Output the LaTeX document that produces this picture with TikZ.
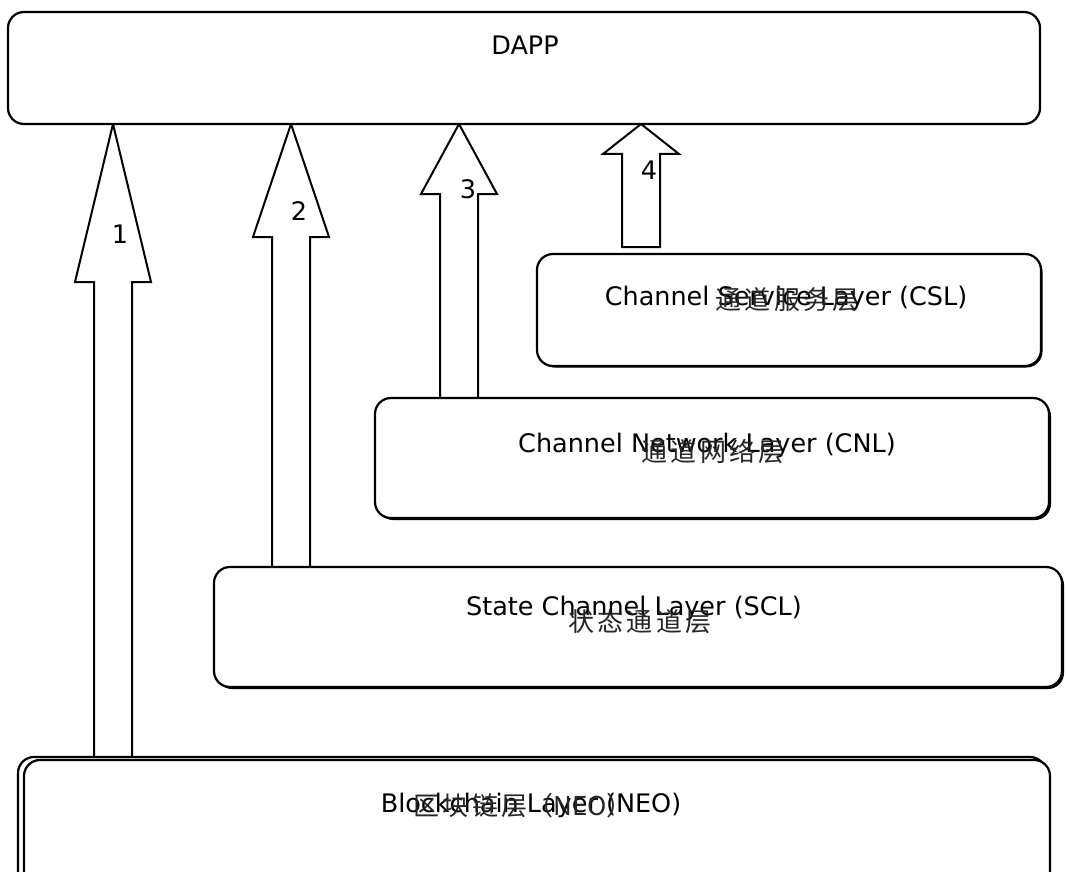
\documentclass[tikz,border=0pt]{standalone}
\usepackage{fontspec}
\setmainfont{DejaVu Sans}
\newfontfamily\cjk{Noto Sans CJK SC}
\usetikzlibrary{shadows,calc,backgrounds}

% spacing between Chinese characters
\newcommand\ck{\kern3.5pt}

% hollow block arrow: #1 centre x, #2 y of the head base, #3 tip point, #4 foot point
\newcommand\blockarrow[4]{%
  \draw[blockarr] (#1-19,0 |- #4) -- (#1-19,#2) -- (#1-38,#2) -- (#1,0 |- #3)
    -- (#1+38,#2) -- (#1+19,#2) -- (#1+19,0 |- #4) -- cycle;}

\begin{document}
\begin{tikzpicture}[x=1pt,y=-1pt,
  layer/.style={draw, line width=2.2pt, rounded corners=16pt, fill=white,
    inner sep=0pt, outer sep=0pt},
  shadowed/.style={drop shadow={shadow xshift=#1, shadow yshift=-#1,
    opacity=1, fill=black}},
  blockarr/.style={draw, line width=2pt, fill=white, line join=miter},
  en/.style={anchor=base, inner sep=0pt, font=\fontsize{25.5}{29}\selectfont},
  cn/.style={anchor=base, inner sep=0pt, text=black!85,
    font=\cjk\fontsize{26}{30}\selectfont},
  num/.style={inner sep=0pt, font=\fontsize{25.5}{29}\selectfont}]
\useasboundingbox (0,0) rectangle (1066,872);
\clip (0,0) rectangle (1066,872);

% layers
\node[layer, minimum width=1032pt, minimum height=112pt] (dapp) at (524,68) {};
\node[layer, shadowed=1.5pt, minimum width=504pt, minimum height=112pt] (csl) at (789,310) {};
\node[layer, shadowed=2pt, minimum width=674pt, minimum height=120pt] (cnl) at (712,458) {};
\node[layer, shadowed=2pt, minimum width=848pt, minimum height=120pt] (scl) at (638,627) {};
\node[layer, minimum width=1028pt, minimum height=133pt] (bcback) at (532,823.5) {};
\node[layer, minimum width=1026pt, minimum height=130pt] (bc) at (537,825) {};

% layer titles
\node[en] (dappT) at (525,55) {DAPP};
\node[en] (cslT) at (786,305) {Channel Service Layer (CSL)};
\node[cn] (cslZ) at (787,309) {通\ck 道\ck 服\ck 务\ck 层};
\node[en] (cnlT) at (707,452) {Channel Network Layer (CNL)};
\node[cn] (cnlZ) at (713,461) {通\ck 道\ck 网\ck 络\ck 层};
\node[en] (sclT) at (634,615) {State Channel Layer (SCL)};
\node[cn] (sclZ) at (640,631) {状\ck 态\ck 通\ck 道\ck 层};
\node[en] (bcT) at (531,812) {Blockchain Layer (NEO)};
\node[cn] (bcZ) at (523,815) {区\ck 块\ck 链\ck 层（NEO）};

\coordinate (a4foot) at ($(csl.north)+(0,-7)$);

% access paths from each layer up to the DAPP
\begin{scope}[on background layer]
  \blockarrow{113}{282}{dapp.south}{bcback.north}
  \blockarrow{291}{237}{dapp.south}{scl.north}
  \blockarrow{459}{194}{dapp.south}{cnl.north}
  \blockarrow{641}{154}{dapp.south}{a4foot}
\end{scope}

\node[num] (n1) at (120,234) {1};
\node[num] (n2) at (299,211) {2};
\node[num] (n3) at (468,189) {3};
\node[num] (n4) at (649,170) {4};
\end{tikzpicture}
\end{document}
